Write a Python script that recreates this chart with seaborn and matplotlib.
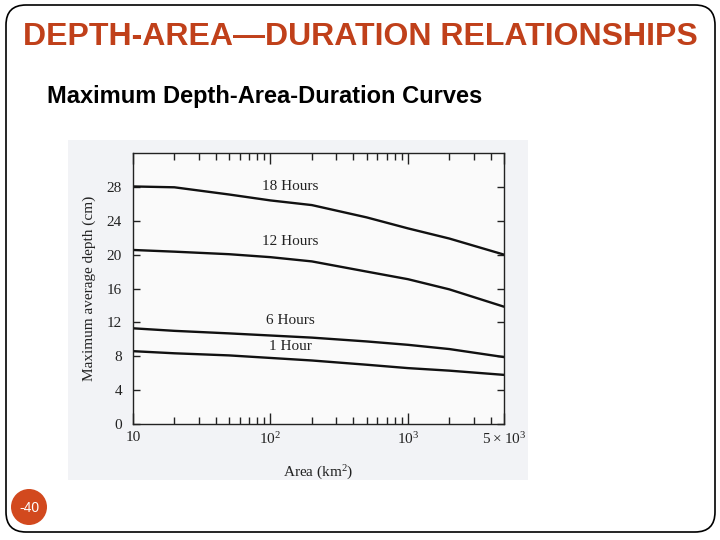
import numpy as np
import pandas as pd
import matplotlib
matplotlib.use("Agg")
import matplotlib.pyplot as plt
import seaborn as sns
from matplotlib.patches import FancyBboxPatch, Circle, Rectangle
from matplotlib.ticker import LogLocator, NullFormatter, FixedLocator

# ---- data ----
area = [10, 20, 50, 100, 200, 500, 1000, 2000, 5000]
depth_18h = [28.05, 27.95, 27.1, 26.4, 25.85, 24.4, 23.1, 21.9, 20.0]
depth_12h = [20.55, 20.35, 20.05, 19.7, 19.2, 18.0, 17.1, 15.9, 13.85]
depth_6h = [11.3, 11.0, 10.7, 10.45, 10.2, 9.75, 9.35, 8.85, 7.9]
depth_1h = [8.6, 8.35, 8.1, 7.8, 7.5, 7.0, 6.6, 6.3, 5.8]
durations = ["18 Hours", "12 Hours", "6 Hours", "1 Hour"]
y_ticks = [0, 4, 8, 12, 16, 20, 24, 28]
x_ticks = [10, 100, 1000, 5000]
x_tick_labels = ["10", r"$\mathregular{10^2}$", r"$\mathregular{10^3}$", r"$\mathregular{5\times10^3}$"]

rows = []
for name, vals in zip(durations, [depth_18h, depth_12h, depth_6h, depth_1h]):
    for a, d in zip(area, vals):
        rows.append({"Area": a, "Depth": d, "Duration": name})
df = pd.DataFrame(rows)

sns.set_theme(style="white")
plt.rcParams["font.family"] = ["Liberation Sans", "DejaVu Sans"]

fig = plt.figure(figsize=(7.2, 5.4), dpi=100)
fig.patch.set_facecolor("white")

# background/slide axes in pixel coordinates
bg = fig.add_axes([0, 0, 1, 1], zorder=0)
bg.set_xlim(0, 720)
bg.set_ylim(540, 0)
bg.axis("off")
bg.add_patch(FancyBboxPatch((6, 5), 709, 527,
                            boxstyle="round,pad=0,rounding_size=20",
                            fc="white", ec="black", lw=1.2))
bg.add_patch(Rectangle((68, 140), 460, 340, fc="#f2f3f6", ec="none"))
bg.text(360, 37, "DEPTH-AREA\u2014DURATION RELATIONSHIPS", ha="center", va="center",
        fontsize=23, fontweight="bold", color="#c0401a")
bg.text(47, 96, "Maximum Depth-Area-Duration Curves", ha="left", va="center",
        fontsize=17, fontweight="bold", color="black")
bg.add_patch(Circle((29, 507), 18, fc="#d2491e", ec="none"))
bg.text(29, 508, "-40", ha="center", va="center", fontsize=10, color="white")

# chart axes
ax = fig.add_axes([133 / 720, 116 / 540, (504 - 133) / 720, (387 - 116) / 540], zorder=1)
ax.set_facecolor("#fafafa")
sns.lineplot(data=df, x="Area", y="Depth", hue="Duration",
             palette=["#111111"] * 4, linewidth=1.7, legend=False, ax=ax)
ax.set_xscale("log")
ax.set_xlim(10, 5000)
ax.set_ylim(0, 32)

serif = "Liberation Serif"
ax.xaxis.set_major_locator(FixedLocator(x_ticks))
ax.set_xticklabels(x_tick_labels, fontfamily=serif, fontsize=11)
ax.xaxis.set_minor_locator(LogLocator(base=10, subs=np.arange(2, 10)))
ax.xaxis.set_minor_formatter(NullFormatter())
ax.set_yticks(y_ticks)
ax.set_yticklabels([str(v) for v in y_ticks], fontfamily=serif, fontsize=11)

ax.tick_params(axis="x", which="major", direction="in", length=8, width=1,
               top=True, bottom=True, pad=5, colors="#222222")
ax.tick_params(axis="x", which="minor", direction="in", length=5, width=1,
               top=True, bottom=True, colors="#222222")
ax.tick_params(axis="y", which="major", direction="in", length=5, width=1,
               left=True, right=True, pad=8, colors="#222222")
for s in ax.spines.values():
    s.set_color("#222222")
    s.set_linewidth(1)

ax.set_xlabel(r"Area (km$\mathregular{^2}$)", fontfamily=serif, fontsize=11, labelpad=12, color="#222222")
ax.set_ylabel("Maximum average depth (cm)", fontfamily=serif, fontsize=11, labelpad=8, color="#222222")

label_y = {"18 Hours": 28.1, "12 Hours": 21.5, "6 Hours": 12.25, "1 Hour": 9.2}
for name in durations:
    ax.text(140, label_y[name], name, ha="center", va="center",
            fontfamily=serif, fontsize=11, color="#222222")

fig.savefig("out.png", dpi=100)
